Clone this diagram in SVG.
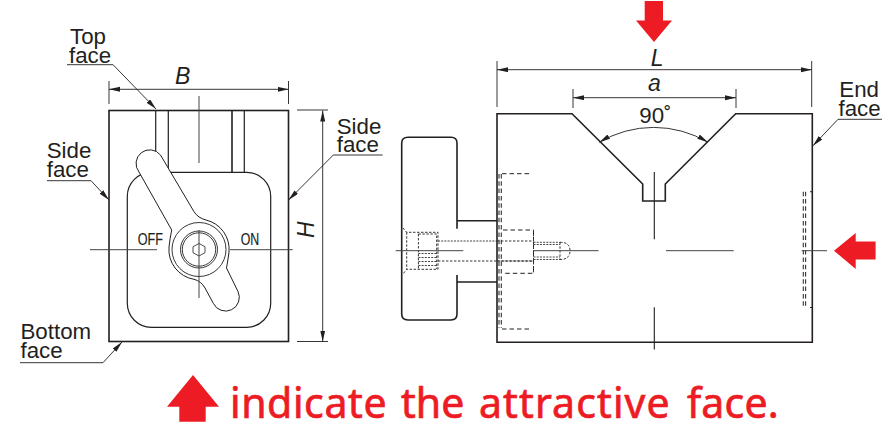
<svg xmlns="http://www.w3.org/2000/svg" width="886" height="448" viewBox="0 0 886 448">
<style>
.t{font-family:"Liberation Sans",Arial,sans-serif;font-size:22.3px;fill:#231f20}
.i{font-style:italic;font-size:23px}
.m{font-family:"Liberation Sans",Arial,sans-serif;font-size:17px;fill:#231f20;stroke:#231f20;stroke-width:.2}
.o{fill:none;stroke:#231f20;stroke-width:1.6}
.w{fill:#fff;stroke:#231f20;stroke-width:1}
.h{fill:none;stroke:#231f20;stroke-width:.9}
.c{fill:none;stroke:#444;stroke-width:1}
.d{fill:none;stroke:#231f20;stroke-width:1;stroke-dasharray:4.5 3}
.s{fill:none;stroke:#333;stroke-width:1;stroke-dasharray:2.4 1.6}
.g{fill:none;stroke:#444;stroke-width:1;stroke-dasharray:2 1.2}
.q{fill:none;stroke:#333;stroke-width:1.1;stroke-dasharray:4.5 2.8}
.a{marker-start:url(#ah);marker-end:url(#ah)}
.l{marker-end:url(#ah)}
.r{fill:#ed1c24}
</style>
<defs><marker id="ah" markerUnits="userSpaceOnUse" markerWidth="12" markerHeight="6" refX="11" refY="2.5" orient="auto-start-reverse"><path d="M0,0 L11,2.5 L0,5 Z" fill="#231f20"/></marker></defs>
<rect width="886" height="448" fill="#fff"/>
<g id="front-view">
<rect class="o" x="109" y="110.5" width="179.5" height="231"/>
<path class="o" d="M232,110.5V172"/><path class="h" style="stroke-width:1.2" d="M155.7,110.5V172M168.3,110.5V172M244.3,110.5V172"/>
<path class="c" d="M199,96V163"/>
<rect class="h" style="stroke-width:1.2" x="127.3" y="172.3" width="143.4" height="155" rx="24"/>
<path class="w" d="M139,172A12.5,12.5 0 0 1 160.5,155L194,211.7Q198,218 206,220A30,30 0 0 1 229,252Q228,260 226.5,268L238,291.5A13,13 0 0 1 213.3,303.3L205,288Q201,281 194,279.3A30,30 0 0 1 169,247Q170,238 171.7,230Z"/>
<circle class="h" cx="199" cy="249.5" r="27"/>
<circle class="h" cx="199" cy="249.5" r="18.5"/>
<circle class="h" cx="199" cy="249.5" r="16.7"/>
<path class="h" style="stroke-width:.8" d="M199,243.5L205,246.7V252.7L199,256L193,252.7V246.7Z"/>
<path class="c" d="M90,249.7H157M230,249.7H292.7M199,230V298"/>
<text class="m" x="137.7" y="244.7" textLength="25.3" lengthAdjust="spacingAndGlyphs">OFF</text>
<text class="m" x="240.7" y="244.7" textLength="18.5" lengthAdjust="spacingAndGlyphs">ON</text>
</g>
<g id="knob">
<path class="o" d="M457,228.7V143Q457,137.3 451,137.3H408Q401.7,137.3 401.7,143V314Q401.7,320 408,320H451Q457,320 457,314V275M457,220.7H497M457,282H497"/>
<path class="s" d="M403,228L406.7,232.3H438V269.3H406.7L403,274M406.7,232.3V269.3M418.4,234H436.7V269M418.4,234V269M438,261H533"/>
<path class="g" d="M438,241H497M418.4,253.5H437M418.4,257.5H437M418.4,261.5H437M418.4,265.5H437"/>
</g>
<g id="side-view">
<path class="o" d="M497,113.7H572L642.7,184V201H665.3V184L735.7,113.7H812.3V342.3H497Z"/>
<path class="d" d="M502,173.7H530M502,329H530M503,230H533.5V273.3H503"/>
<path class="s" d="M497,241H533.5M497,261H533.5M533.5,230V273M560,242.3Q570,242.3 570,250.7Q570,259.5 560,259.5M560,242.3V259.5"/>
<path class="q" d="M499,174V328M501.3,174V328M803.3,191.7V307M805.6,191.7V307"/>
<path class="g" d="M533.5,242.3H560M533.5,244.5H560M533.5,257H560M533.5,259.5H560"/>
<path class="c" d="M395.7,250.7H463.3M533,250.7H598.5M666,250.7H733.7M801.7,250.7H827"/>
<path class="h" style="stroke-width:1.1" d="M654.3,172V239.3M654.3,307.3V349.5M810,191.7H812M810,307.5H812"/>
</g>
<g id="connectors">
<path class="h" d="M109,81V104M288.5,81V104M297,110H328M297,341.5H328M497,61V107M811.7,61V107M573,89V108M736,89V108"/>
<path class="h a" d="M109,89.3H288.5"/>
<path class="h a" d="M322.7,110.5V341.5"/>
<path class="h a" d="M497,69.7H811.7"/>
<path class="h a" d="M573,97.7H736"/>
<path class="h a" d="M599.3,142.3A106.5,106.5 0 0 1 708,142.3"/>
<path class="h l" d="M67,64.7H113L156,109"/>
<path class="h l" d="M47,180.7H91L109,200"/>
<path class="h l" d="M382.7,155H333.3L288.5,200"/>
<path class="h l" d="M20,362.7H103L122,342"/>
<path class="h l" d="M882,119.3H838L813,145.7"/>
</g>
<g id="labels">
<text class="t"><tspan x="70" y="44">Top</tspan><tspan x="69" y="62.7">face</tspan></text>
<text class="t"><tspan x="46.7" y="158.3">Side</tspan><tspan x="46.7" y="177.3">face</tspan></text>
<text class="t"><tspan x="336.7" y="134">Side</tspan><tspan x="336.7" y="151.7">face</tspan></text>
<text class="t"><tspan x="20.5" y="339.3">Bottom</tspan><tspan x="20.5" y="358.3">face</tspan></text>
<text class="t"><tspan x="839.3" y="96.7">End</tspan><tspan x="838.5" y="115.7">face</tspan></text>
<text class="t i" x="175" y="84.3">B</text>
<text class="t i" x="650.7" y="65.7">L</text>
<text class="t i" x="648" y="90.7">a</text>
<text class="t" x="639.3" y="122.7">90˚</text>
<text class="t i" transform="translate(314,238) rotate(-90)">H</text>
</g>
<g id="attract-arrows">
<path class="r" d="M644.7,1H663V20.5H672L654,42L636,20.5H644.7Z"/>
<path class="r" d="M875.6,241.5V259.5H855.7V269L834,250.7L855.7,233V241.5Z"/>
<path class="r" d="M193,375L219,406.7H205.7V421.7H179.3V406.7H167Z"/>
<text y="418" style="font-family:'Noto Sans',sans-serif;font-size:41px;fill:#ed1c24;stroke:#ed1c24;stroke-width:.7;letter-spacing:.6px"><tspan x="230">indicate </tspan><tspan x="401" style="letter-spacing:0">the </tspan><tspan x="479" style="letter-spacing:1.1px">attractive </tspan><tspan x="687" style="letter-spacing:.2px">face.</tspan></text>
</g>
</svg>
